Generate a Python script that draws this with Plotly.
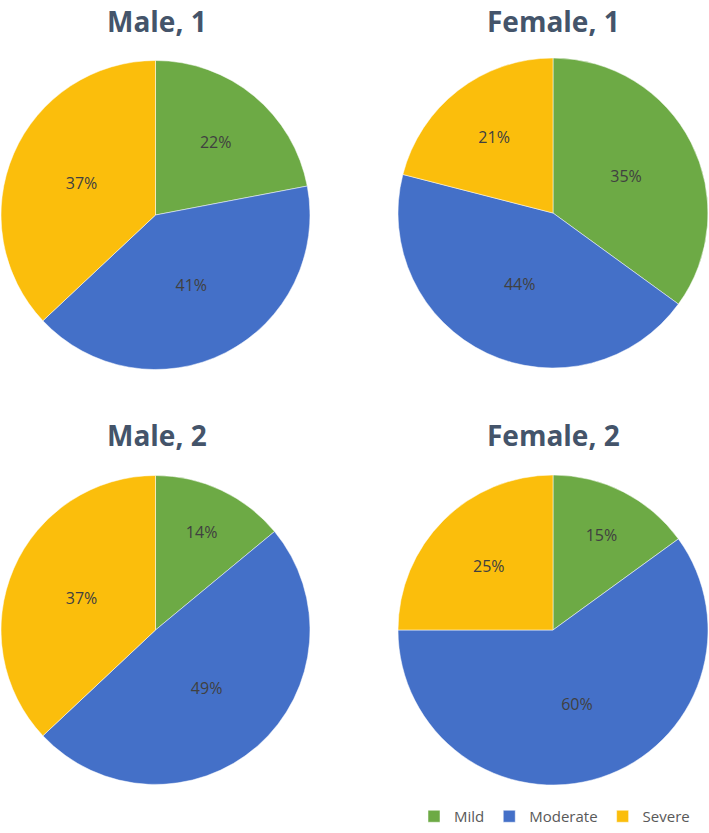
import plotly.graph_objects as go

labels = ["Mild", "Moderate", "Severe"]
titles = ["Male, 1", "Female, 1", "Male, 2", "Female, 2"]
male_1 = [22, 41, 37]
female_1 = [35, 44, 21]
male_2 = [14, 49, 37]
female_2 = [15, 60, 25]
series = [male_1, female_1, male_2, female_2]
colors = ["#6DAA45", "#4470C8", "#FBBE0C"]

W, H = 709, 833
# pie boxes in pixels: (left, right, top, bottom)
boxes = [(1, 310, 60, 370), (398, 708, 58, 368), (1, 310, 475, 785), (398, 708, 475, 785)]
title_top = [(157, 0), (553, 0), (157, 414), (553, 414)]

fig = go.Figure()
for i, (vals, box) in enumerate(zip(series, boxes)):
    l, r, t, b = box
    fig.add_trace(go.Pie(
        labels=labels, values=vals, sort=False, direction="clockwise", rotation=0,
        marker=dict(colors=colors, line=dict(color="white", width=0.5)),
        textinfo="percent", texttemplate="%{value}%", textposition="inside",
        insidetextorientation="horizontal",
        textfont=dict(family="Open Sans", size=16, color="#404040"),
        domain=dict(x=[l / W, r / W], y=[(H - b) / H, (H - t) / H]),
        showlegend=(i == 0), hoverinfo="label+percent",
    ))

for txt, (x, y) in zip(titles, title_top):
    fig.add_annotation(text=f"<b>{txt}</b>", x=x / W, y=(H - y) / H, xref="paper", yref="paper",
                       showarrow=False, xanchor="center", yanchor="top",
                       font=dict(family="Open Sans", size=28, color="#44546A"))

fig.update_layout(
    width=W, height=H, margin=dict(l=0, r=0, t=0, b=0, autoexpand=False),
    paper_bgcolor="white", plot_bgcolor="white",
    legend=dict(orientation="h", x=414 / W, y=0, xanchor="left", yanchor="bottom",
                font=dict(family="Open Sans", size=15, color="#595959"), itemwidth=30,
                tracegroupgap=0),
)
fig.write_html("out.html", config={"displayModeBar": False})

with open("out.html", "r", encoding="utf-8") as f:
    html = f.read()
html = html.replace("<head>", "<head><style>html,body{margin:0;padding:0;overflow:hidden;}</style>", 1)
with open("out.html", "w", encoding="utf-8") as f:
    f.write(html)
